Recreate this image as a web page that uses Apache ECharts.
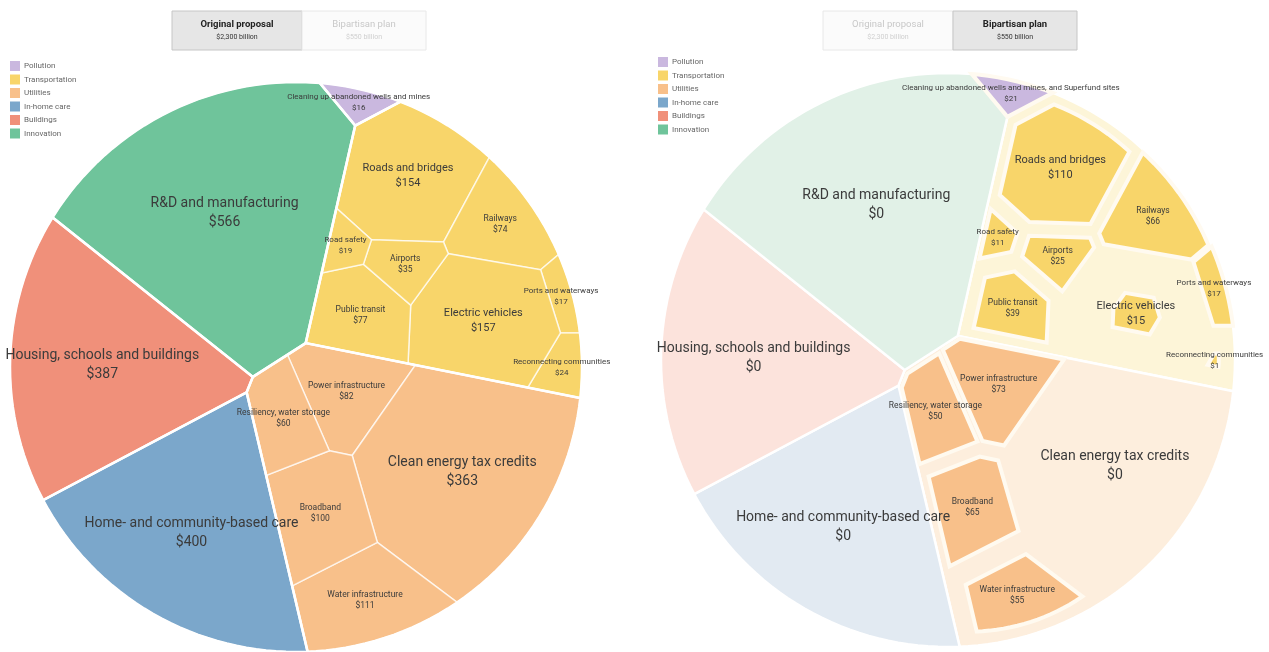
<!DOCTYPE html>
<html>
<head>
<meta charset="utf-8">
<script src="https://cdn.jsdelivr.net/npm/echarts@6/dist/echarts.min.js"></script>
<style>
  html, body { margin: 0; padding: 0; background: #fff; }
  #chart { width: 1269px; height: 652px; }
</style>
</head>
<body>
<div id="chart"></div>
<script>
// ---- data ----
const groups = ['Pollution', 'Transportation', 'Utilities', 'In-home care', 'Buildings', 'Innovation'];
const items = [
  'Cleaning up abandoned wells and mines', 'Roads and bridges', 'Railways', 'Ports and waterways',
  'Reconnecting communities', 'Electric vehicles', 'Public transit', 'Airports', 'Road safety',
  'Power infrastructure', 'Clean energy tax credits', 'Water infrastructure', 'Broadband',
  'Resiliency, water storage', 'Home- and community-based care', 'Housing, schools and buildings',
  'R&D and manufacturing'
];
const itemsBipartisan = items.slice();
itemsBipartisan[0] = 'Cleaning up abandoned wells and mines, and Superfund sites';
const itemGroup = [0, 1, 1, 1, 1, 1, 1, 1, 1, 2, 2, 2, 2, 2, 3, 4, 5];
const originalValues = [16, 154, 74, 17, 24, 157, 77, 35, 19, 82, 363, 111, 100, 60, 400, 387, 566];
const bipartisanValues = [21, 110, 66, 17, 1, 15, 39, 25, 11, 73, 0, 55, 65, 50, 0, 0, 0];
const proposals = ['Original proposal', 'Bipartisan plan'];
const proposalTotals = ['$2,300 billion', '$550 billion'];

// ---- styles ----
const groupColors = ['#cab8df', '#f8d56a', '#f8c08a', '#7ba7cb', '#f0907a', '#6fc49b'];
const groupFaded = ['#ece3f4', '#fdf5d8', '#fdeedd', '#e2eaf2', '#fce3dc', '#e1f1e7'];
const FONT = 'Roboto, "Noto Sans", sans-serif';
const topStartAngle = 78;
const childStartAngle = { 1: 160, 2: 163 };
// seed distance from the parent centroid (share of the way to its edge)
const childSeedFrac = {
  1: (v, max) => 0.88 - 0.4 * v / max,
  2: () => 0.6
};
// how strongly sites drift to their cell centroids while the layout settles
const childRelax = {
  1: it => (it < 40 ? 0.25 : it < 120 ? 0.1 : 0),
  2: it => (it < 60 ? 0.4 : it < 160 ? 0.15 : 0)
};

// ---- voronoi treemap helpers ----
function area(p) {
  let s = 0;
  for (let i = 0; i < p.length; i++) {
    const a = p[i], b = p[(i + 1) % p.length];
    s += a[0] * b[1] - b[0] * a[1];
  }
  return s / 2;
}
function centroid(p) {
  let cx = 0, cy = 0, s = 0;
  for (let i = 0; i < p.length; i++) {
    const a = p[i], b = p[(i + 1) % p.length];
    const cr = a[0] * b[1] - b[0] * a[1];
    s += cr; cx += (a[0] + b[0]) * cr; cy += (a[1] + b[1]) * cr;
  }
  s /= 2;
  return [cx / (6 * s), cy / (6 * s)];
}
function clipHalf(poly, nx, ny, c) {
  const out = [];
  for (let i = 0; i < poly.length; i++) {
    const a = poly[i], b = poly[(i + 1) % poly.length];
    const da = nx * a[0] + ny * a[1] - c, db = nx * b[0] + ny * b[1] - c;
    if (da <= 0) out.push(a);
    if ((da < 0 && db > 0) || (da > 0 && db < 0)) {
      const t = da / (da - db);
      out.push([a[0] + t * (b[0] - a[0]), a[1] + t * (b[1] - a[1])]);
    }
  }
  return out;
}
function powerCells(clip, s, w) {
  return s.map((si, i) => {
    let p = clip;
    for (let j = 0; j < s.length; j++) {
      if (j === i) continue;
      const sj = s[j];
      const c = (sj[0] * sj[0] + sj[1] * sj[1]) - (si[0] * si[0] + si[1] * si[1]) - w[j] + w[i];
      p = clipHalf(p, 2 * (sj[0] - si[0]), 2 * (sj[1] - si[1]), c);
      if (p.length < 3) return [];
    }
    return p;
  });
}
function fixOverweight(s, w) {
  let fixed, guard = 0;
  do {
    fixed = 0;
    for (let i = 0; i < s.length; i++) {
      for (let j = i + 1; j < s.length; j++) {
        const d2 = (s[i][0] - s[j][0]) ** 2 + (s[i][1] - s[j][1]) ** 2;
        const hi = w[i] >= w[j] ? i : j, lo = hi === i ? j : i;
        const over = w[hi] - w[lo] - d2;
        if (over > 0) { w[lo] += over + 1e-9; fixed++; }
      }
    }
  } while (fixed > 0 && ++guard < 60);
}
function rayDist(poly, c, ang) {
  const dx = Math.cos(ang), dy = Math.sin(ang);
  let best = Infinity;
  for (let i = 0; i < poly.length; i++) {
    const a = poly[i], b = poly[(i + 1) % poly.length];
    const ex = b[0] - a[0], ey = b[1] - a[1];
    const den = dx * ey - dy * ex;
    if (Math.abs(den) < 1e-12) continue;
    const wx = a[0] - c[0], wy = a[1] - c[1];
    const t = (wx * ey - wy * ex) / den;
    const u = (wx * dy - wy * dx) / den;
    if (t >= 0 && u >= -1e-9 && u <= 1 + 1e-9) best = Math.min(best, t);
  }
  return best;
}
function pieSeeds(poly, vals, start, fracFn) {
  const c = centroid(poly);
  const tot = vals.reduce((a, b) => a + b, 0);
  const max = Math.max(...vals);
  let a = start;
  return vals.map(v => {
    const span = v / tot * 360;
    const mid = (a - span / 2) * Math.PI / 180;
    a -= span;
    const d = rayDist(poly, c, mid) * fracFn(v, max);
    return [c[0] + d * Math.cos(mid), c[1] + d * Math.sin(mid)];
  });
}
// relax(it) = share of the way a site moves to its cell centroid at iteration it
function voronoiTreemap(clip, vals, seeds, relax) {
  const n = vals.length;
  if (n === 1) return [clip];
  const A = area(clip), tot = vals.reduce((a, b) => a + b, 0);
  const target = vals.map(v => v / tot * A);
  const s = seeds.map(p => p.slice());
  const w = vals.map(() => A / n / 20);
  fixOverweight(s, w);
  let cells = powerCells(clip, s, w);
  for (let it = 0; it < 700; it++) {
    const m = relax(it);
    if (m > 0) {
      cells.forEach((c, i) => {
        if (c.length >= 3) {
          const g = centroid(c);
          s[i] = [s[i][0] + m * (g[0] - s[i][0]), s[i][1] + m * (g[1] - s[i][1])];
        }
      });
      fixOverweight(s, w);
      cells = powerCells(clip, s, w);
    }
    const lim = it < 200 ? 0.35 : 0.15;
    cells.forEach((c, i) => {
      const a = c.length >= 3 ? area(c) : 0;
      let r = a > 0 ? target[i] / a : 1 + lim;
      r = Math.min(1 + lim, Math.max(1 - lim, r));
      w[i] = Math.max(w[i] * r, 1e-9);
    });
    fixOverweight(s, w);
    cells = powerCells(clip, s, w);
  }
  return cells;
}

// ---- layout ----
const SEG = 180;
const clipCircle = Array.from({ length: SEG }, (_, k) => [Math.cos(2 * Math.PI * k / SEG), Math.sin(2 * Math.PI * k / SEG)]);
const groupTotals = groups.map((g, gi) => originalValues.reduce((a, v, i) => a + (itemGroup[i] === gi ? v : 0), 0));
const groupCells = voronoiTreemap(clipCircle, groupTotals, pieSeeds(clipCircle, groupTotals, topStartAngle, () => 0.55), () => 1);
const itemCells = new Array(items.length);
groups.forEach((g, gi) => {
  const idx = items.map((_, i) => i).filter(i => itemGroup[i] === gi);
  const vals = idx.map(i => originalValues[i]);
  const cells = idx.length === 1 ? [groupCells[gi]]
    : voronoiTreemap(groupCells[gi], vals, pieSeeds(groupCells[gi], vals, childStartAngle[gi], childSeedFrac[gi]), childRelax[gi]);
  idx.forEach((i, k) => { itemCells[i] = cells[k]; });
});
const itemCentroids = itemCells.map(c => centroid(c));
const bipCells = itemCells.map((c, i) => {
  const b = bipartisanValues[i];
  if (!b) return null;
  const k = Math.min(1, Math.sqrt(b / originalValues[i]));
  const g = itemCentroids[i];
  return c.map(p => [g[0] + k * (p[0] - g[0]), g[1] + k * (p[1] - g[1])]);
});

function fontSize(v) { return v >= 300 ? 14 : v >= 150 ? 11 : v >= 30 ? 8.5 : 8; }

function polySeries(axis, polys, styleFn) {
  return {
    type: 'custom', coordinateSystem: 'cartesian2d', xAxisIndex: axis, yAxisIndex: axis,
    silent: true, animation: false, clip: false,
    data: polys.map((p, i) => { const g = p ? centroid(p) : [0, 0]; return [g[0], g[1], i]; }),
    encode: { x: 0, y: 1 },
    renderItem: (params, api) => {
      const p = polys[params.dataIndex];
      if (!p || p.length < 3) return null;
      return { type: 'polygon', shape: { points: p.map(q => api.coord(q)) }, style: styleFn(params.dataIndex) };
    }
  };
}
function labelSeries(axis, names, values) {
  return {
    type: 'custom', coordinateSystem: 'cartesian2d', xAxisIndex: axis, yAxisIndex: axis,
    silent: true, animation: false, clip: false, z: 10,
    data: itemCentroids.map((g, i) => [g[0], g[1], values[i]]),
    encode: { x: 0, y: 1 },
    renderItem: (params, api) => {
      const i = params.dataIndex;
      const pt = api.coord([itemCentroids[i][0], itemCentroids[i][1]]);
      const fs = fontSize(originalValues[i]);
      return {
        type: 'text', x: pt[0], y: pt[1],
        style: {
          text: names[i] + '\n$' + values[i], font: fs + 'px ' + FONT, fill: '#3b3b3b',
          align: 'center', verticalAlign: 'middle', lineHeight: Math.round(fs * 1.35)
        }
      };
    }
  };
}

// ---- graphics: toggles + legends ----
const graphic = [];
function toggle(x0, active) {
  const w = [130, 124];
  let x = x0;
  proposals.forEach((p, k) => {
    const on = k === active;
    graphic.push({ type: 'rect', shape: { x: x, y: 11, width: w[k], height: 39 },
      style: { fill: on ? '#e6e6e6' : '#fbfbfb', stroke: on ? '#c6c6c6' : '#e8e8e8', lineWidth: 1 } });
    graphic.push({ type: 'text', x: x + w[k] / 2, y: 25,
      style: { text: p, font: (on ? 'bold ' : '') + '9.5px ' + FONT, fill: on ? '#222' : '#c8c8c8', align: 'center', verticalAlign: 'middle' } });
    graphic.push({ type: 'text', x: x + w[k] / 2, y: 37,
      style: { text: proposalTotals[k], font: '7px ' + FONT, fill: on ? '#333' : '#cfcfcf', align: 'center', verticalAlign: 'middle' } });
    x += w[k];
  });
}
toggle(172, 0);
toggle(823, 1);
function legend(x, y0) {
  groups.forEach((g, k) => {
    const y = y0 + k * 13.5;
    graphic.push({ type: 'rect', shape: { x: x, y: y - 5, width: 10, height: 10 }, style: { fill: groupColors[k] } });
    graphic.push({ type: 'text', x: x + 14, y: y, style: { text: g, font: '8px ' + FONT, fill: '#666', verticalAlign: 'middle' } });
  });
}
legend(10, 66);
legend(658, 62);

const chart = echarts.init(document.getElementById('chart'));
const axisHidden = i => ({ gridIndex: i, type: 'value', min: -1, max: 1, show: false });
chart.setOption({
  animation: false,
  grid: [
    { left: 10, top: 82, width: 572, height: 572 },
    { left: 661, top: 73, width: 574, height: 574 }
  ],
  xAxis: [axisHidden(0), axisHidden(1)],
  yAxis: [axisHidden(0), axisHidden(1)],
  graphic: graphic,
  series: [
    polySeries(0, itemCells, i => ({ fill: groupColors[itemGroup[i]], stroke: 'rgba(255,255,255,0.7)', lineWidth: 1.5 })),
    polySeries(0, groupCells, i => ({ fill: 'none', stroke: '#fff', lineWidth: 2.5 })),
    labelSeries(0, items, originalValues),
    polySeries(1, groupCells, i => ({ fill: groupFaded[i], stroke: '#fff', lineWidth: 2.5 })),
    polySeries(1, bipCells, i => ({ fill: groupColors[itemGroup[i]], stroke: '#fffaf0', lineWidth: 4 })),
    labelSeries(1, itemsBipartisan, bipartisanValues)
  ]
});
</script>
</body>
</html>
